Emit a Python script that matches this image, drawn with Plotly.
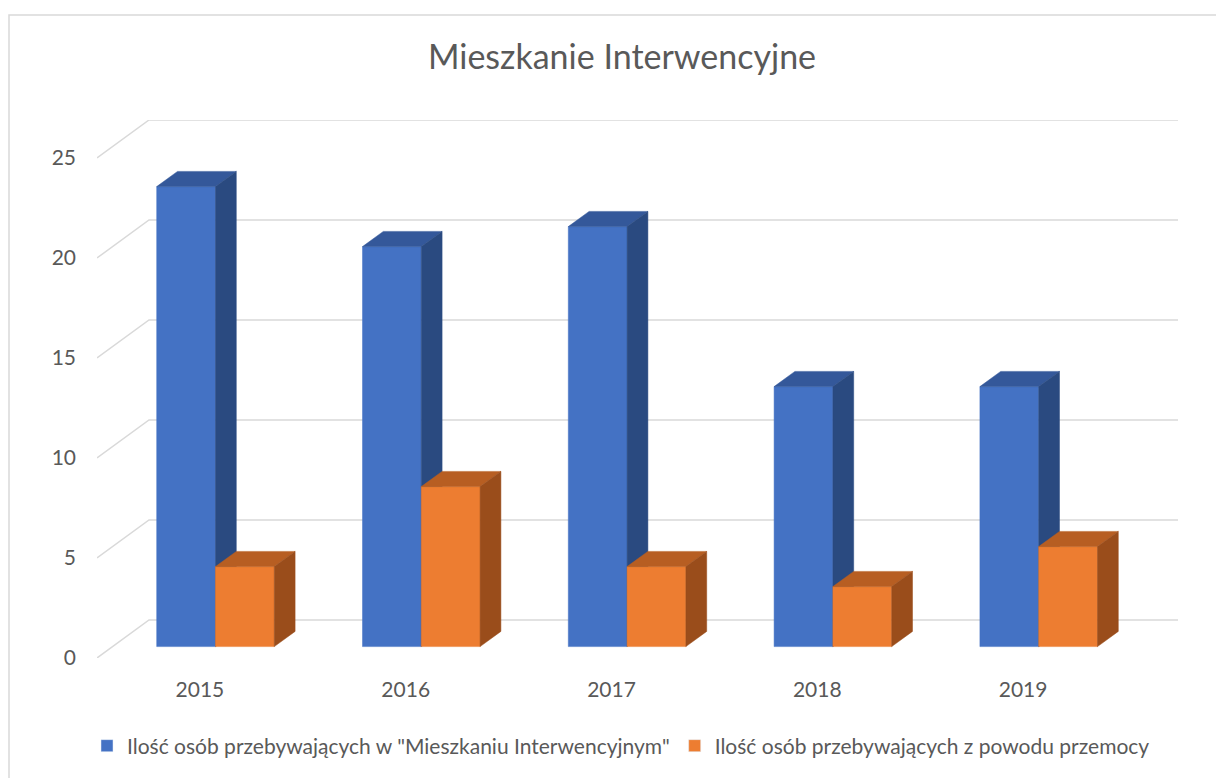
import plotly.graph_objects as go

# ---- data ----
categories = ["2015", "2016", "2017", "2018", "2019"]
series_names = ['Ilość osób przebywających w "Mieszkaniu Interwencyjnym"',
                "Ilość osób przebywających z powodu przemocy"]
values_stay = [23, 20, 21, 13, 13]
values_violence = [4, 8, 4, 3, 5]
y_ticks = [0, 5, 10, 15, 20, 25]
title_text = "Mieszkanie Interwencyjne"

# ---- style ----
OFF = 8  # page body margin
W, H = 1224 - OFF, 778 - OFF
ML, MR, MT, MB = 97 - OFF, 46, 120 - OFF, 120
DX = 0.2527   # depth offset in category units
DY = 1.9      # depth offset in value units
GAP = 1.5     # gap width relative to bar width
BAR_W = 1.0 / (2 + GAP)
F0, F1 = 0.3, 0.7  # bar front/back depth fractions
FONT = "Lato"
TXT = "#595959"
GRID = "#D9D9D9"
palette = [
    {"front": "#4472C4", "top": "#34589A", "side": "#2A4A80"},
    {"front": "#ED7D31", "top": "#B75E22", "side": "#9A4D1B"},
]

n = len(categories)
ymax = max(y_ticks)

fig = go.Figure()

# back-wall gridlines with slanted connector to the front plane
gx, gy = [], []
for v in y_ticks:
    gx += [0, DX, n + DX, None]
    gy += [v, v + DY, v + DY, None]
fig.add_trace(go.Scatter(x=gx, y=gy, mode="lines", line=dict(color=GRID, width=1.5),
                         hoverinfo="skip", showlegend=False))

all_series = [values_stay, values_violence]
for s, vals in enumerate(all_series):
    faces = {"front": ([], []), "top": ([], []), "side": ([], [])}
    for i, v in enumerate(vals):
        x0 = i + 0.5 - BAR_W + s * BAR_W
        x1 = x0 + BAR_W
        a, b = F0 * DX, F1 * DX
        c, d = F0 * DY, F1 * DY
        fx, fy = faces["front"]
        fx += [x0 + a, x1 + a, x1 + a, x0 + a, x0 + a, None]
        fy += [c, c, v + c, v + c, c, None]
        tx, ty = faces["top"]
        tx += [x0 + a, x1 + a, x1 + b, x0 + b, x0 + a, None]
        ty += [v + c, v + c, v + d, v + d, v + c, None]
        sx, sy = faces["side"]
        sx += [x1 + a, x1 + b, x1 + b, x1 + a, x1 + a, None]
        sy += [c, d, v + d, v + c, c, None]
    for face in ["front", "top", "side"]:
        xs, ys = faces[face]
        col = palette[s][face]
        fig.add_trace(go.Scatter(x=xs, y=ys, mode="lines", fill="toself", fillcolor=col,
                                 line=dict(color=col, width=0.5), hoverinfo="skip",
                                 showlegend=False))

# legend entries
for s, name in enumerate(series_names):
    fig.add_trace(go.Bar(x=[None], y=[None], name=name,
                         marker=dict(color=palette[s]["front"]), showlegend=True))

pw, ph = W - ML - MR, H - MT - MB
fig.update_layout(
    width=W, height=H,
    margin=dict(l=ML, r=MR, t=MT, b=MB),
    paper_bgcolor="white", plot_bgcolor="white",
    font=dict(family=FONT, color=TXT, size=21),
    title=dict(text=title_text, x=(622 - OFF) / W, xref="container", xanchor="center",
               y=1 - (57 - OFF) / H, yref="container", yanchor="middle",
               font=dict(family=FONT, size=34, color=TXT)),
    xaxis=dict(range=[0, n + DX], showgrid=False, zeroline=False, showline=False,
               tickmode="array", tickvals=[i + 0.5 for i in range(n)], ticktext=categories,
               ticks="", ticklabelstandoff=17, tickfont=dict(size=21, color=TXT),
               fixedrange=True),
    yaxis=dict(range=[0, ymax + DY], showgrid=False, zeroline=False, showline=False,
               tickmode="array", tickvals=y_ticks, ticktext=[str(t) for t in y_ticks],
               ticks="", ticklabelstandoff=20, tickfont=dict(size=21, color=TXT),
               fixedrange=True),
    legend=dict(orientation="h", xref="container", yref="container",
                x=(621 - OFF) / W, xanchor="center", y=1 - (746 - OFF) / H, yanchor="middle",
                font=dict(size=21, color=TXT), itemclick=False, itemdoubleclick=False,
                tracegroupgap=0),
    shapes=[dict(type="rect", xref="paper", yref="paper",
                 x0=(9 - OFF - ML) / pw, x1=(W + 20 - ML) / pw,
                 y0=-(MB + 20) / ph, y1=1 + (MT - (15 - OFF)) / ph,
                 line=dict(color=GRID, width=1.5), layer="below")],
    showlegend=True,
)

fig.write_html("out.html")
